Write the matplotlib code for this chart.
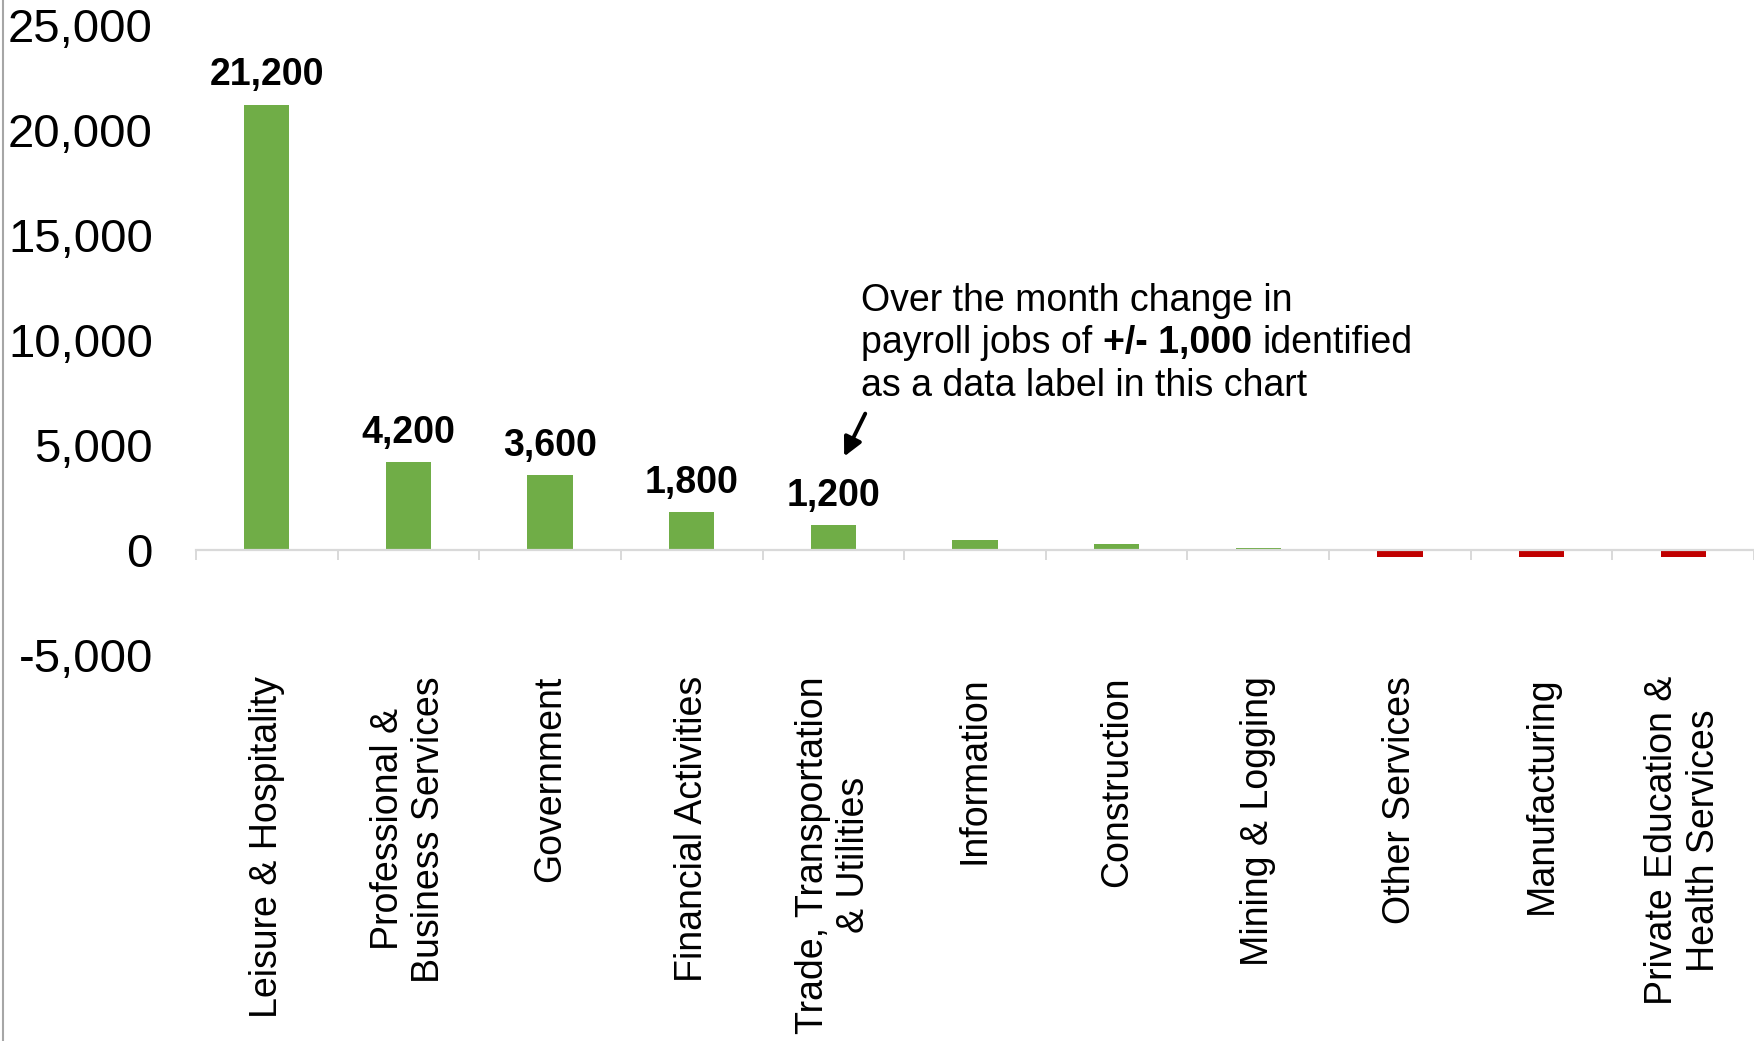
import matplotlib
matplotlib.use("Agg")
import matplotlib.pyplot as plt
from matplotlib.lines import Line2D
from matplotlib.ticker import FuncFormatter, FixedLocator
from matplotlib.transforms import offset_copy

plt.rcParams['font.family'] = ['Liberation Sans', 'DejaVu Sans']

categories = ["Leisure & Hospitality", "Professional &\nBusiness Services", "Government",
              "Financial Activities", "Trade, Transportation\n& Utilities", "Information",
              "Construction", "Mining & Logging", "Other Services", "Manufacturing",
              "Private Education &\nHealth Services"]
values = [21200, 4200, 3600, 1800, 1200, 500, 300, 100, -300, -300, -300]
label_threshold = 1000
y_ticks = [-5000, 0, 5000, 10000, 15000, 20000, 25000]

GREEN = "#70AD47"
RED = "#C00000"
AXIS_GRAY = "#D9D9D9"

fig = plt.figure(figsize=(17.54, 10.41), dpi=100)
ax = fig.add_axes([196/1754, 1-655.5/1041, 1-196/1754, (655.5-24.6)/1041])

x = list(range(len(categories)))
colors = [GREEN if v >= 0 else RED for v in values]
bars = ax.bar(x, values, width=0.32, color=colors, zorder=2)

ax.set_xlim(-0.5, len(categories) - 0.5)
ax.set_ylim(y_ticks[0], y_ticks[-1])

# y axis
ax.yaxis.set_major_locator(FixedLocator(y_ticks))
ax.yaxis.set_major_formatter(FuncFormatter(lambda v, p: f"{int(v):,}"))
ax.tick_params(axis='y', length=0, pad=31, labelsize=34)

# x axis on zero line
for s in ['left', 'right', 'top']:
    ax.spines[s].set_visible(False)
ax.spines['bottom'].set_position(('data', 0))
ax.spines['bottom'].set_color(AXIS_GRAY)
ax.spines['bottom'].set_linewidth(1.6)
ax.spines['bottom'].set_zorder(3)
ax.set_xticks(x)
ax.set_xticklabels(categories, rotation=90, ha='center', va='top',
                   multialignment='center', fontsize=27)
ax.tick_params(axis='x', which='major', length=0, pad=90.5)
ax.set_xticks([i - 0.5 for i in range(len(categories) + 1)], minor=True)
ax.tick_params(axis='x', which='minor', length=7.2, width=1.4, color=AXIS_GRAY, direction='out')

# data labels
for xi, v in zip(x, values):
    if abs(v) >= label_threshold:
        ax.annotate(f"{v:,}", xy=(xi, v), xytext=(0, 13.7), textcoords='offset points',
                    ha='center', va='baseline', fontsize=27, fontweight='bold')

# annotation text
tx, ty = 4.196, 11390
fs = 27
ax.text(tx, ty, "Over the month change in", fontsize=fs, ha='left', va='baseline')
t1 = ax.text(tx, ty, "payroll jobs of ", fontsize=fs, ha='left', va='baseline',
             transform=offset_copy(ax.transData, fig, x=0, y=-42.5, units='dots'))
fig.canvas.draw()
r = fig.canvas.get_renderer()
w1 = t1.get_window_extent(r).width
t2 = ax.text(tx, ty, "+/- 1,000", fontsize=fs, fontweight='bold', ha='left', va='baseline',
             transform=offset_copy(ax.transData, fig, x=w1, y=-42.5, units='dots'))
fig.canvas.draw()
w2 = t2.get_window_extent(r).width
sp = ax.text(0, 0, "a a", fontsize=fs)
sp2 = ax.text(0, 0, "aa", fontsize=fs)
fig.canvas.draw()
wsp = sp.get_window_extent(r).width - sp2.get_window_extent(r).width
sp.remove(); sp2.remove()
ax.text(tx, ty, "identified", fontsize=fs, ha='left', va='baseline',
        transform=offset_copy(ax.transData, fig, x=w1 + w2 + wsp, y=-42.5, units='dots'))
ax.text(tx, ty, "as a data label in this chart", fontsize=fs, ha='left', va='baseline',
        transform=offset_copy(ax.transData, fig, x=0, y=-85, units='dots'))

ax.annotate("", xy=(4.076, 4461), xytext=(4.225, 6502),
            arrowprops=dict(arrowstyle='-|>', color='black', lw=2.8, mutation_scale=28,
                            shrinkA=0, shrinkB=0))

# left border line
fig.add_artist(Line2D([2.5/1754, 2.5/1754], [0, 1], transform=fig.transFigure,
                      color='#A6A6A6', lw=1.5))

fig.savefig("out.png", dpi=100)
